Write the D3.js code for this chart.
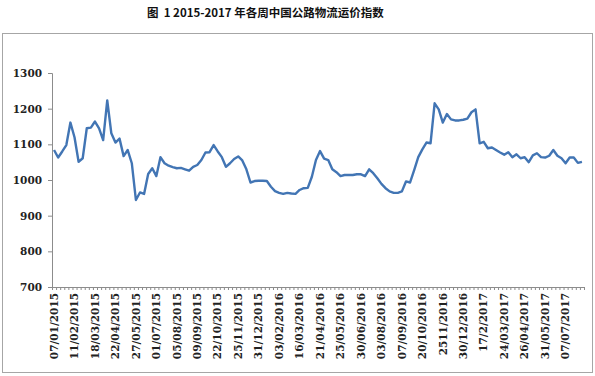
<!DOCTYPE html>
<html>
<head>
<meta charset="utf-8">
<script src="https://cdn.jsdelivr.net/npm/d3@7"></script>
<style>
  body { margin: 0; background: #fff; }
  svg { display: block; }
</style>
</head>
<body>
<div id="chart"></div>
<script>
// weekly index, one value per week (130 weeks)
const values = [
  1084, 1063, 1080, 1098, 1161, 1120, 1051, 1061, 1145, 1147,
  1164, 1145, 1112, 1223, 1131, 1105, 1116, 1067, 1084, 1047,
  944, 965, 961, 1017, 1033, 1011, 1064, 1047, 1040, 1036,
  1033, 1034, 1030, 1026, 1037, 1042, 1056, 1077, 1078, 1098,
  1080, 1064, 1037, 1047, 1059, 1066, 1055, 1030, 993, 997,
  998, 998, 997, 981, 969, 964, 961, 964, 962, 961,
  972, 977, 978, 1009, 1056, 1081, 1060, 1056, 1030, 1022,
  1011, 1014, 1014, 1014, 1016, 1016, 1011, 1030, 1019, 1005,
  989, 977, 968, 964, 964, 968, 996, 993, 1028, 1064,
  1086, 1105, 1103, 1215, 1198, 1161, 1185, 1170, 1167, 1167,
  1169, 1172, 1190, 1198, 1103, 1107, 1089, 1091, 1084, 1077,
  1071, 1078, 1064, 1072, 1061, 1064, 1050, 1069, 1075, 1064,
  1063, 1068, 1084, 1068, 1061, 1047, 1063, 1063, 1048, 1051
];

// a label is shown every 5 weeks
const dateLabels = [
  "07/01/2015", "11/02/2015", "18/03/2015", "22/04/2015", "27/05/2015",
  "01/07/2015", "05/08/2015", "09/09/2015", "22/10/2015", "25/11/2015",
  "31/12/2015", "03/02/2016", "16/03/2016", "21/04/2016", "25/05/2016",
  "30/06/2016", "03/08/2016", "07/09/2016", "20/10/2016", "2511/2016",
  "30/12/2016", "17/2/2017", "24/03/2017", "26/04/2017", "31/05/2017",
  "07/07/2017"
];
const labelStep = 5;
const yTicks = [700, 800, 900, 1000, 1100, 1200, 1300];

const W = 595, H = 376;
const plotL = 52, plotR = 584, plotT = 73, plotB = 287;

const svg = d3.select("#chart").append("svg")
    .attr("width", W)
    .attr("height", H);

// title
svg.append("text")
    .attr("x", 147)
    .attr("y", 17)
    .attr("font-family", "'Noto Sans CJK SC', sans-serif")
    .attr("font-size", 11.5)
    .attr("font-weight", "bold")
    .attr("fill", "#111")
    .style("white-space", "pre")
    .text("图  1 2015-2017 年各周中国公路物流运价指数");

// chart border
svg.append("rect")
    .attr("x", 2.5).attr("y", 33.5)
    .attr("width", 590).attr("height", 339)
    .attr("fill", "none")
    .attr("stroke", "#a6a6a6");

const idx = d3.range(values.length);
const x = d3.scaleBand()
    .domain(idx)
    .range([plotL, plotR]);
const xEdge = d3.scaleLinear()
    .domain([0, values.length])
    .range([plotL, plotR]);
const y = d3.scaleLinear()
    .domain([700, 1300])
    .range([plotB, plotT]);

const axisFont = "'DejaVu Serif', serif";

// y axis
const yAxis = svg.append("g")
    .attr("transform", `translate(${plotL},0)`)
    .call(d3.axisLeft(y).tickValues(yTicks).tickSize(4).tickPadding(6).tickFormat(d3.format("d")));
yAxis.select(".domain").attr("stroke", "#8c8c8c");
yAxis.selectAll(".tick line").attr("stroke", "#8c8c8c");
yAxis.selectAll("text")
    .attr("font-family", axisFont)
    .attr("font-size", 10.5)
    .attr("font-weight", "bold")
    .attr("fill", "#222");

// x axis: a small tick at every week boundary
const xAxis = svg.append("g")
    .attr("transform", `translate(0,${plotB})`)
    .call(d3.axisBottom(xEdge).tickValues(d3.range(values.length + 1)).tickSize(3).tickFormat("").tickSizeOuter(0));
xAxis.select(".domain").attr("stroke", "#8c8c8c");
xAxis.selectAll(".tick line").attr("stroke", "#8c8c8c");

// x labels
const labelAxis = svg.append("g")
    .attr("transform", `translate(0,${plotB})`)
    .call(d3.axisBottom(x)
        .tickValues(dateLabels.map((d, i) => i * labelStep))
        .tickSize(0)
        .tickFormat((d) => dateLabels[d / labelStep]));
labelAxis.select(".domain").remove();
labelAxis.selectAll("text")
    .attr("font-family", axisFont)
    .attr("font-size", 10.5)
    .attr("font-weight", "bold")
    .attr("fill", "#222")
    .attr("text-anchor", "end")
    .attr("dy", "0.35em")
    .attr("transform", "translate(0,6) rotate(-90)")
    .attr("x", 0)
    .attr("y", 0);

// line
const line = d3.line()
    .x((d, i) => x(i) + x.bandwidth() / 2)
    .y((d) => y(d));

svg.append("path")
    .datum(values)
    .attr("fill", "none")
    .attr("stroke", "#4275b4")
    .attr("stroke-width", 2.4)
    .attr("stroke-linejoin", "round")
    .attr("d", line);
</script>
</body>
</html>
